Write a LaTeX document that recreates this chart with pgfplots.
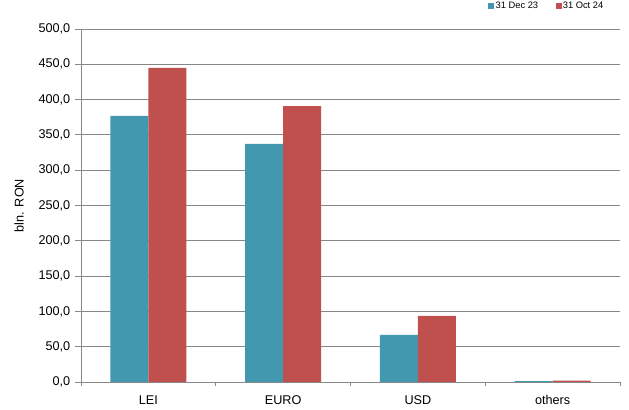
\documentclass[border=0pt]{standalone}
\usepackage{fontspec}
\setmainfont{Liberation Sans}
\usepackage{pgfplots}
\pgfplotsset{compat=1.18}
\definecolor{cblue}{HTML}{4198AF}
\definecolor{cred}{HTML}{C0504D}
\definecolor{axgray}{HTML}{888888}
\begin{document}
\begin{tikzpicture}
\begin{axis}[
    scale only axis,
    width=404.25pt, height=264.75pt,
    ybar=0pt,
    bar width=28.5pt,
    xmin=-0.5, xmax=3.5,
    ymin=0, ymax=500,
    xtick={0,1,2,3},
    xticklabels={LEI,EURO,USD,others},
    minor xtick={-0.5,0.5,1.5,2.5,3.5},
    major x tick style={draw=none},
    minor tick length=3pt,
    major tick length=4.5pt,
    tick align=outside,
    tick style={axgray, line width=0.7pt},
    ytick={0,50,...,500},
    yticklabel style={/pgf/number format/.cd, fixed, fixed zerofill, precision=1, use comma, assume math mode=true},
    ymajorgrids,
    grid style={axgray, line width=0.7pt},
    axis x line*=bottom,
    axis y line*=left,
    axis line style={axgray, line width=0.7pt},
    ylabel={bln. RON},
    every axis y label/.style={at={(rel axis cs:0,0.5)}, xshift=-46.5pt, rotate=90, anchor=center},
    xticklabel style={yshift=-2pt},
    tick label style={font=\fontsize{9.5}{11}\selectfont},
    label style={font=\fontsize{9.5}{11}\selectfont},
    legend style={draw=none, font=\fontsize{7}{8}\selectfont, legend columns=2,
        at={(0.972,1)}, anchor=north east, yshift=21.75pt, inner sep=0pt,
        nodes={inner sep=1pt},
        /tikz/every even column/.append style={column sep=12pt}},
    legend image code/.code={\fill[#1] (0pt,-2.25pt) rectangle (4.5pt,2.25pt);},
    clip=false,
]
\addplot[fill=cblue, draw=none] coordinates {(0,376.8) (1,337.2) (2,66.6) (3,1.2)};
\addplot[fill=cred, draw=none] coordinates {(0,444.8) (1,390.9) (2,93.5) (3,2.0)};
\legend{31 Dec 23, 31 Oct 24}
\path (rel axis cs:0,0) ++(-60.75pt,-21pt) (rel axis cs:1,1) ++(6.75pt,21.75pt);
\end{axis}
\end{tikzpicture}
\end{document}
